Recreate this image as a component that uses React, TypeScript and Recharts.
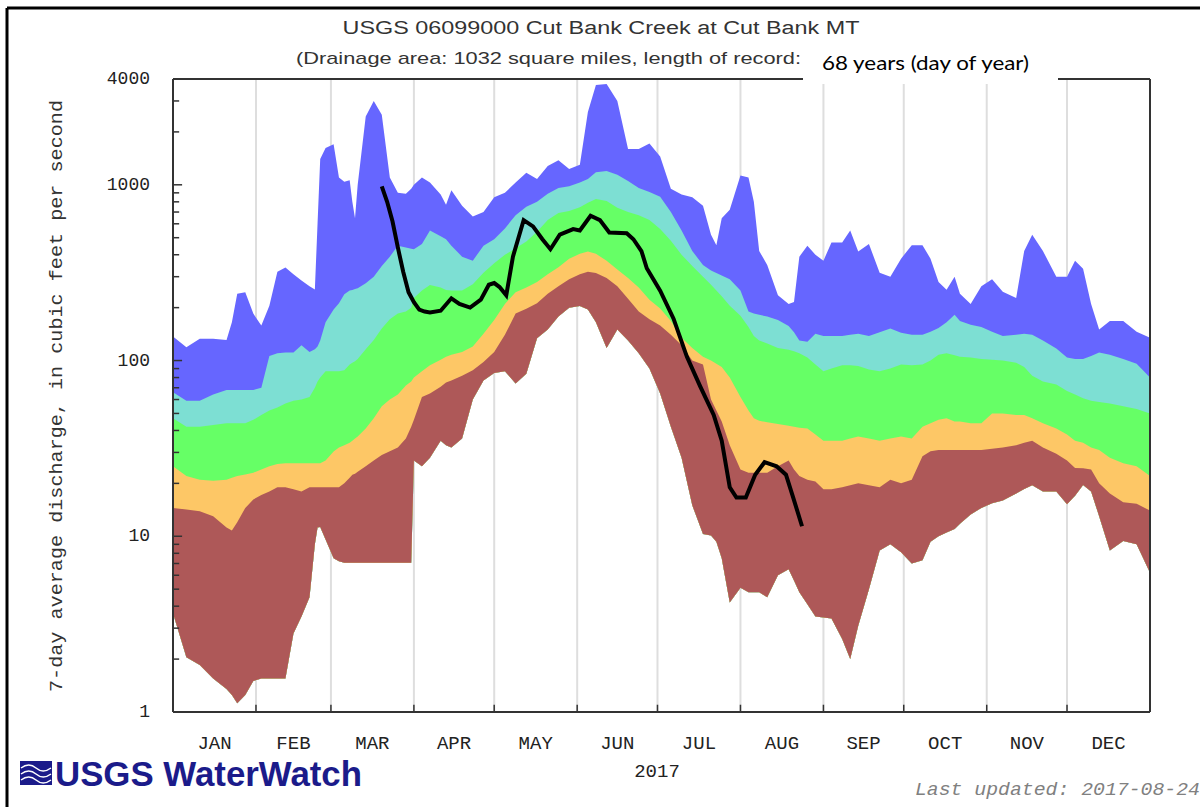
import React from 'react';
import { ComposedChart, Area, Line, XAxis, YAxis, CartesianGrid, ReferenceLine } from 'recharts';

// day of year (0 = Jan 1)
const days = [
  0, 5, 10, 15, 20, 22, 24, 27, 30, 33, 36, 39, 42, 45, 48, 51, 53, 54, 55, 57,
  60, 62, 64, 66, 67, 68, 69, 72, 75, 78, 81, 84, 87, 89, 90, 93, 96, 100, 102, 104,
  108, 112, 116, 120, 124, 128, 132, 136, 140, 144, 148, 152, 155, 158, 162, 166, 170, 174, 178, 182,
  186, 190, 194, 198, 201, 203, 205, 208, 212, 215, 217, 219, 222, 226, 230, 232, 234, 237, 240, 243,
  246, 250, 253, 256, 260, 264, 268, 272, 276, 280, 283, 286, 289, 292, 294, 298, 302, 306, 310, 315,
  318, 321, 325, 330, 334, 337, 340, 343, 346, 350, 355, 360, 365,
];

const maxQ = [
  137, 119, 133, 133, 131, 165, 240, 245, 185, 158, 205, 320, 338, 310, 285, 265, 254, 600, 1400, 1620,
  1700, 1100, 1040, 1060, 800, 646, 1000, 2450, 3000, 2500, 1100, 900, 890, 950, 1000, 1100, 1030, 880, 770, 930,
  760, 660, 700, 850, 900, 1030, 1170, 1080, 1280, 1380, 1230, 1300, 2600, 3700, 3750, 3000, 1600, 1600, 1720, 1450,
  950, 880, 850, 760, 520, 453, 646, 720, 1130, 1100, 800, 420, 350, 235, 210, 215, 390, 450, 400, 370,
  470, 470, 550, 417, 460, 316, 300, 380, 453, 453, 380, 280, 253, 300, 240, 210, 265, 290, 246, 227,
  420, 519, 420, 300, 300, 370, 333, 210, 150, 168, 168, 146, 135,
];

const p90 = [
  66, 59, 59, 64, 68, 68, 68, 68, 68, 70, 106, 110, 111, 111, 122, 112, 116, 120, 130, 165,
  195, 212, 238, 250, 252, 255, 258, 275, 300, 345, 390, 450, 440, 432, 430, 460, 550, 510, 490, 450,
  390, 370, 450, 490, 565, 670, 750, 800, 890, 960, 980, 1030, 1080, 1180, 1200, 1140, 1050, 960, 910, 855,
  700, 550, 420, 350, 325, 315, 305, 290, 250, 190, 185, 182, 178, 170, 157, 145, 130, 128, 142, 138,
  138, 138, 140, 142, 138, 145, 152, 144, 140, 140, 146, 153, 165, 182, 168, 160, 155, 146, 138, 140,
  142, 140, 130, 117, 104, 102, 102, 106, 111, 108, 102, 96, 80,
];

const p75 = [
  47, 42, 42, 43, 44, 44, 44, 44, 46, 49, 52, 54, 57, 59, 60, 62, 70, 76, 80, 87,
  87, 87, 88, 95, 97, 99, 102, 116, 131, 152, 172, 185, 190, 200, 227, 250, 269, 260, 252, 250,
  250, 272, 316, 358, 400, 435, 475, 540, 630, 690, 710, 745, 790, 830, 810, 740, 700, 670, 630, 560,
  480, 400, 345, 300, 270, 250, 232, 205, 180, 155, 138, 130, 125, 118, 115, 113, 110, 104, 95, 87,
  90, 94, 94, 93, 89, 87, 90, 95, 94, 95, 100, 108, 110, 107, 105, 104, 102, 101, 100, 97,
  92, 82, 76, 73, 67, 64, 61, 59, 58, 57, 55, 53, 50,
];

const p25 = [
  25, 22, 21, 20.7, 21, 21.5, 22, 22.5, 23, 24, 25, 25.8, 26, 26, 26, 26, 26, 26, 26, 27,
  30.4, 32, 33, 34, 35, 36, 37, 41, 47, 55, 60, 64, 72, 76, 80, 87, 94, 101, 105, 108,
  112, 120, 142, 170, 210, 245, 260, 280, 310, 340, 380, 405, 417, 405, 370, 330, 295, 260, 222, 198,
  168, 135, 118, 105, 100, 96, 92, 80, 62, 52, 47, 45.5, 44.5, 43.5, 42.5, 42, 41.5, 41, 38, 35,
  35, 35, 36, 37, 36, 35, 36, 37, 36, 42, 44, 46, 47, 45, 45, 44, 44, 50, 50, 49,
  49, 47, 44, 41, 38, 35, 34, 32, 31, 28, 26, 25, 22,
];

const p10 = [
  14.5, 14.2, 13.9, 13, 11.2, 10.8, 12, 14.5, 16.2, 17.2, 18, 19, 19, 18.5, 18, 19, 19, 19, 19, 19,
  19, 19, 20, 21.5, 22.4, 22.7, 23.3, 25, 27, 29, 30.5, 32, 36, 42, 46, 62, 65, 71, 75, 77,
  82, 88, 98, 112, 140, 185, 197, 212, 240, 265, 290, 310, 320, 315, 295, 265, 225, 190, 172, 158,
  140, 122, 100, 95, 60, 52, 45, 33, 24, 23, 23, 23, 23, 25, 27, 24, 22, 21, 20.5, 18.5,
  18.5, 19, 19.5, 20, 19.5, 19, 21, 20, 21, 28.5, 30.5, 31, 31, 31, 31, 31, 31, 31.5, 32, 33,
  34, 35, 32, 29.5, 27, 24.5, 24.4, 24, 20, 17.5, 15.6, 15.3, 14,
];

const minQ = [
  3.65, 2.05, 1.85, 1.55, 1.35, 1.25, 1.12, 1.25, 1.5, 1.55, 1.55, 1.55, 1.55, 2.8, 3.5, 4.5, 9, 11.2, 11.3, 9.6,
  7.5, 7.2, 7.07, 7.07, 7.07, 7.07, 7.07, 7.07, 7.07, 7.07, 7.07, 7.07, 7.07, 7.07, 27, 25, 28, 35, 33, 32,
  36, 60, 77, 85, 87, 74, 84, 134, 150, 178, 200, 204, 195, 165, 118, 150, 130, 110, 90, 65,
  42, 28, 15, 10.3, 10.1, 9.3, 7.5, 4.2, 5.1, 4.8, 4.8, 4.8, 4.5, 6, 6.5, 5.6, 4.8, 4.1, 3.5, 3.45,
  3.4, 2.6, 2.0, 3.1, 5.0, 8.3, 9.0, 8.1, 7, 7.3, 9.3, 10, 10.5, 11, 11.8, 13.3, 14.5, 15.4, 16, 17.5,
  18.6, 19.5, 18, 18, 15.2, 17, 19.6, 18, 13, 8.3, 9.4, 9, 6.2,
];

// 2017 seven-day average discharge
const curDays = [
  78, 80, 82, 84, 86, 88, 90, 92, 94, 96, 100, 104, 107, 111, 115, 118, 120, 122, 124.5, 127,
  131, 134.5, 138, 141, 144.5, 149.5, 152, 156, 159.5, 163, 169.5, 172, 175, 177, 182, 187, 192, 197, 202, 205,
  208, 210.5, 214, 217.5, 221, 225.5, 229, 231.5, 235,
];
const curQ = [
  980, 800, 620, 440, 320, 245, 215, 195, 190, 188, 192, 226, 210, 200, 222, 270, 276, 262, 235, 390,
  630, 580, 490, 430, 520, 560, 550, 667, 630, 535, 530, 490, 420, 335, 250, 173, 105, 71, 49, 35,
  19, 16.6, 16.6, 22.4, 26.4, 25, 22.4, 17, 11.4,
];

const monthStarts = [31, 59, 90, 120, 151, 181, 212, 243, 273, 304, 334];
const monthMids = [15.5, 45, 74.5, 105, 135.5, 166, 196.5, 227.5, 258, 288.5, 319, 349.5];
const monthLabels = ['JAN', 'FEB', 'MAR', 'APR', 'MAY', 'JUN', 'JUL', 'AUG', 'SEP', 'OCT', 'NOV', 'DEC'];

const yMajor = [1, 10, 100, 1000, 4000];
const yTicks = [
  1, 2, 3, 4, 5, 6, 7, 8, 9, 10, 20, 30, 40, 50, 60, 70, 80, 90, 100, 200, 300, 400, 500, 600, 700, 800, 900,
  1000, 2000, 3000, 4000,
];

const COLORS = {
  max: '#6666ff',
  p90: '#7ddfd3',
  p75: '#66ff66',
  p25: '#fdc766',
  p10: '#ae5858',
};

const data = days.map((d, i) => ({
  day: d,
  bMax: [minQ[i], maxQ[i]],
  b90: [minQ[i], p90[i]],
  b75: [minQ[i], p75[i]],
  b25: [minQ[i], p25[i]],
  b10: [minQ[i], p10[i]],
}));
const curData = curDays.map((d, i) => ({ day: d, cur: curQ[i] }));

const MONO = '"Liberation Mono", "DejaVu Sans Mono", monospace';
const SANS = '"Liberation Sans", Arial, sans-serif';

const XTick = (props: any) => {
  const { x, y, payload } = props;
  const mi = monthMids.indexOf(payload.value);
  if (mi < 0) return <g />;
  return (
    <text x={x} y={y + 32} textAnchor="middle" dominantBaseline="central" fontFamily={MONO} fontSize={19} fill="#222">
      {monthLabels[mi]}
    </text>
  );
};

const YTick = (props: any) => {
  const { x, y, payload } = props;
  const v = payload.value;
  if (!yMajor.includes(v)) return <g />;
  return (
    <text x={x - 23} y={y} textAnchor="end" dominantBaseline="central" fontFamily={MONO} fontSize={18} fill="#222">
      {v}
    </text>
  );
};

const gridGen = (props: any) => {
  const { xAxis, offset } = props || {};
  const s = xAxis && typeof xAxis.scale === 'function' ? xAxis.scale : null;
  return monthStarts.map((d) => (s ? s(d) : offset.left + (d / 365) * offset.width));
};

export default function App() {
  return (
    <div style={{ position: 'absolute', left: 0, top: 0, width: 1200, height: 807, background: '#fff', overflow: 'hidden' }}>
      <ComposedChart
        width={1200}
        height={807}
        data={data}
        margin={{ top: 79, right: 50, bottom: 65, left: 113 }}
      >
        <CartesianGrid horizontal={false} stroke="#dedede" strokeWidth={2} verticalCoordinatesGenerator={gridGen} />
        <XAxis
          dataKey="day"
          type="number"
          domain={[0, 365]}
          allowDataOverflow
          ticks={monthMids}
          interval={0}
          tick={<XTick />}
          tickLine={false}
          tickSize={0}
          tickMargin={0}
          height={30}
          axisLine={{ stroke: '#333', strokeWidth: 2 }}
        />
        <YAxis
          scale="log"
          type="number"
          domain={[1, 4000]}
          allowDataOverflow
          ticks={yMajor}
          interval={0}
          tick={<YTick />}
          tickLine={false}
          tickSize={0}
          tickMargin={0}
          width={60}
          axisLine={{ stroke: '#333', strokeWidth: 2 }}
        />
        <Area dataKey="bMax" type="linear" stroke="none" fill={COLORS.max} fillOpacity={1} isAnimationActive={false} />
        <Area dataKey="b90" type="linear" stroke="none" fill={COLORS.p90} fillOpacity={1} isAnimationActive={false} />
        <Area dataKey="b75" type="linear" stroke="none" fill={COLORS.p75} fillOpacity={1} isAnimationActive={false} />
        <Area dataKey="b25" type="linear" stroke="none" fill={COLORS.p25} fillOpacity={1} isAnimationActive={false} />
        <Area dataKey="b10" type="linear" stroke="none" fill={COLORS.p10} fillOpacity={1} isAnimationActive={false} />
        <Line
          data={curData}
          dataKey="cur"
          type="linear"
          stroke="#000"
          strokeWidth={4}
          dot={false}
          isAnimationActive={false}
        />
        {yTicks.map((v) => (
          <ReferenceLine
            key={'yt' + v}
            segment={[{ x: 0, y: v }, { x: yMajor.includes(v) ? 3.4 : 2.3, y: v }]}
            stroke="#333"
            strokeWidth={1.5}
            ifOverflow="visible"
          />
        ))}
        {monthStarts.map((d) => (
          <ReferenceLine
            key={'xt' + d}
            segment={[{ x: d, y: 1 }, { x: d, y: 1.1 }]}
            stroke="#333"
            strokeWidth={1.5}
            ifOverflow="visible"
          />
        ))}
        <ReferenceLine y={4000} stroke="#333" strokeWidth={2} ifOverflow="visible" />
        <ReferenceLine x={365} stroke="#333" strokeWidth={2} ifOverflow="visible" />
      </ComposedChart>

      <svg
        width={1200}
        height={807}
        style={{ position: 'absolute', left: 0, top: 0, pointerEvents: 'none' }}
      >
        <line x1={7} y1={8} x2={1200} y2={8} stroke="#000" strokeWidth={3} />
        <line x1={7} y1={8} x2={7} y2={807} stroke="#000" strokeWidth={3} />
        <text x={601} y={28} textAnchor="middle" dominantBaseline="central" fontFamily={SANS} fontSize={18} fill="#333" textLength={517} lengthAdjust="spacingAndGlyphs">
          USGS 06099000 Cut Bank Creek at Cut Bank MT
        </text>
        <text x={296} y={58} dominantBaseline="central" fontFamily={SANS} fontSize={17} fill="#333" textLength={505} lengthAdjust="spacingAndGlyphs">
          (Drainage area: 1032 square miles, length of record:
        </text>
        <rect x={803} y={38} width={255} height={46} fill="#fff" />
        <text x={822} y={62} dominantBaseline="central" fontFamily='Lato, "Open Sans", sans-serif' fontSize={20} fill="#000" textLength={207} lengthAdjust="spacingAndGlyphs">
          68 years (day of year)
        </text>
        <text
          x={57}
          y={396}
          transform="rotate(-90 57 396)"
          textAnchor="middle"
          dominantBaseline="central"
          fontFamily={MONO}
          fontSize={19}
          fill="#333"
          textLength={592}
          lengthAdjust="spacingAndGlyphs"
        >
          7-day average discharge, in cubic feet per second
        </text>
        <text x={657} y={772} textAnchor="middle" dominantBaseline="central" fontFamily={MONO} fontSize={19} fill="#222">
          2017
        </text>
        <g>
          <rect x={20} y={761} width={32} height={24} fill="#1b1b8a" />
          <path d="M21 768 Q29 762 36 768 T51 768" stroke="#fff" strokeWidth={1.5} fill="none" />
          <path d="M21 774 Q29 768 36 774 T51 774" stroke="#fff" strokeWidth={1.5} fill="none" />
          <path d="M21 780 Q29 774 36 780 T51 780" stroke="#fff" strokeWidth={1.5} fill="none" />
        </g>
        <text x={55} y={786} fontFamily={SANS} fontWeight="bold" fontSize={35} fill="#1b1b8a" textLength={307} lengthAdjust="spacingAndGlyphs">
          USGS WaterWatch
        </text>
        <text x={915} y={790} dominantBaseline="central" fontFamily={MONO} fontStyle="italic" fontSize={18} fill="#808080" textLength={285} lengthAdjust="spacingAndGlyphs">
          Last updated: 2017-08-24
        </text>
      </svg>
    </div>
  );
}
